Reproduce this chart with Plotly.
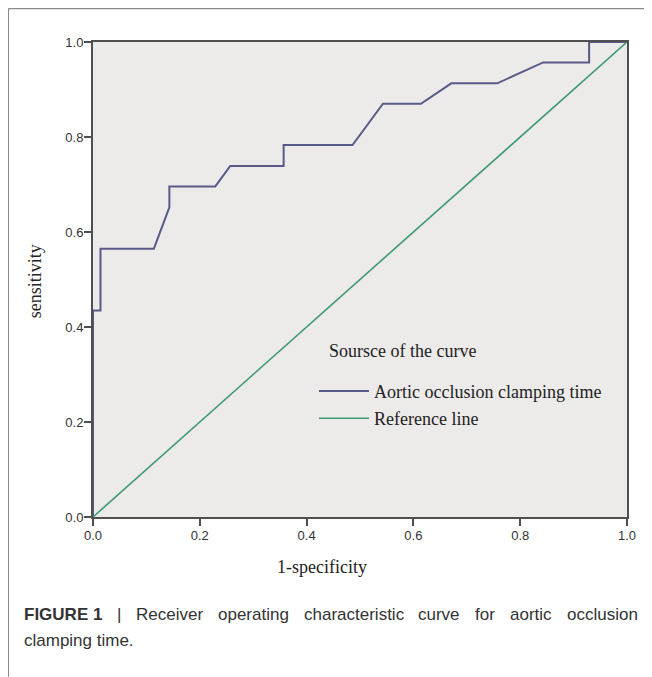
import plotly.graph_objects as go

# ROC curve points (1-specificity, sensitivity)
roc_fpr = [0.0, 0.0, 0.014, 0.014, 0.114, 0.143, 0.143, 0.229, 0.257, 0.357, 0.357,
           0.486, 0.543, 0.614, 0.671, 0.757, 0.843, 0.929, 0.929, 1.0]
roc_tpr = [0.0, 0.435, 0.435, 0.565, 0.565, 0.652, 0.696, 0.696, 0.739, 0.739, 0.783,
           0.783, 0.870, 0.870, 0.913, 0.913, 0.957, 0.957, 1.0, 1.0]
ref_x = [0.0, 1.0]
ref_y = [0.0, 1.0]
tick_vals = [0.0, 0.2, 0.4, 0.6, 0.8, 1.0]
tick_text = ["0.0", "0.2", "0.4", "0.6", "0.8", "1.0"]

# page has an 8px body margin: figure is drawn from (8, 8)
OFF = 8
PW, PH = 652, 677
W, H = PW - OFF, PH - OFF
L, R, T, B = 93.3, 626.7, 42.3, 517.3   # plot area in page pixels


def px(x):
    return (x - L) / (R - L)


def py(y):
    return (B - y) / (B - T)


fig = go.Figure()
fig.add_trace(go.Scatter(x=roc_fpr, y=roc_tpr, mode="lines",
                         name="Aortic occlusion clamping time",
                         legendgroup="a",
                         line=dict(color="#5a5a88", width=2)))
fig.add_trace(go.Scatter(x=ref_x, y=ref_y, mode="lines",
                         name="Reference line",
                         legendgroup="b",
                         line=dict(color="#3d9a70", width=1.6)))

axis_common = dict(range=[0, 1], tickvals=tick_vals, ticktext=tick_text,
                   showgrid=False, zeroline=False, showline=True,
                   linecolor="#4f4f4f", linewidth=2, mirror=True,
                   ticks="outside", ticklen=7, tickwidth=1.5, tickcolor="#4f4f4f",
                   ticklabelstandoff=-2,
                   tickfont=dict(family="Liberation Sans, Arial", size=13, color="#333333"))

serif = "Liberation Serif, Times New Roman"
fig.update_layout(
    width=W, height=H,
    margin=dict(l=L - OFF, r=PW - R, t=T - OFF, b=PH - B, pad=0),
    paper_bgcolor="white",
    plot_bgcolor="#ecebea",
    xaxis=dict(**axis_common),
    yaxis=dict(**axis_common),
    showlegend=True,
    legend=dict(
        x=px(314), y=py(373), xanchor="left", yanchor="top",
        bgcolor="rgba(0,0,0,0)", itemwidth=50,
        font=dict(family=serif, size=18, color="#222222"),
        traceorder="grouped", tracegroupgap=1,
    ),
)

annots = [
    dict(text="Soursce of the curve", x=px(327), y=py(351), xanchor="left", yanchor="middle",
         font=dict(family=serif, size=18, color="#222222")),
    dict(text="1-specificity", x=px(322), y=py(567), xanchor="center", yanchor="middle",
         font=dict(family=serif, size=18, color="#222222")),
    dict(text="sensitivity", x=px(35), y=py(282), xanchor="center", yanchor="middle",
         textangle=-90,
         font=dict(family=serif, size=18, color="#222222")),
]

cap_font = dict(family="Liberation Sans, Arial", size=17, color="#333333")
cap_words = [("<b>FIGURE 1</b>", 22), ("|", 115), ("Receiver", 134), ("operating", 216),
             ("characteristic", 302), ("curve", 416), ("for", 473), ("aortic", 508),
             ("occlusion", 565)]
cap_y = 615
for txt, xx in cap_words:
    annots.append(dict(text=txt, x=px(xx), y=py(cap_y), xanchor="left", yanchor="middle",
                       font=cap_font))
annots.append(dict(text="clamping time.", x=px(22), y=py(641), xanchor="left",
                   yanchor="middle", font=cap_font))

for a in annots:
    a.update(xref="paper", yref="paper", showarrow=False)
fig.update_layout(annotations=annots)

fig.update_layout(shapes=[
    dict(type="line", xref="paper", yref="paper", x0=px(8.7), x1=px(652), y0=py(8.7), y1=py(8.7),
         line=dict(color="#8a8a8a", width=1.5)),
    dict(type="line", xref="paper", yref="paper", x0=px(8.7), x1=px(8.7), y0=py(8.7), y1=py(677),
         line=dict(color="#8a8a8a", width=1.5)),
])

fig.write_html("out.html")
